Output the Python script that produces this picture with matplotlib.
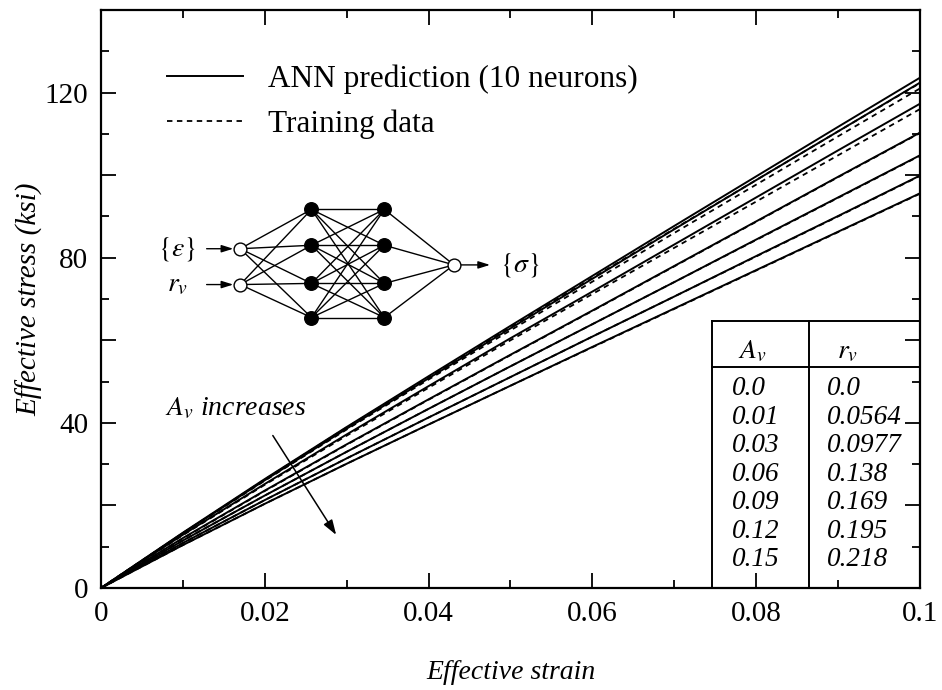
import matplotlib
matplotlib.use("Agg")
import matplotlib.pyplot as plt
from matplotlib.lines import Line2D
from matplotlib.ticker import MultipleLocator, FuncFormatter

plt.rcParams['font.family'] = ['Liberation Serif', 'DejaVu Serif']
plt.rcParams['mathtext.fontset'] = 'stix'

# Effective strain sampling points
strain = [0.0, 0.01, 0.02, 0.03, 0.04, 0.05, 0.06, 0.07, 0.08, 0.09, 0.10]

# Void parameters
A_v = ["0.0", "0.01", "0.03", "0.06", "0.09", "0.12", "0.15"]
r_v = ["0.0", "0.0564", "0.0977", "0.138", "0.169", "0.195", "0.218"]

# ANN prediction (10 neurons), effective stress in ksi
ann_00 = [0, 13.4, 26.4, 39.0, 51.3, 63.5, 75.6, 87.7, 99.7, 111.7, 123.6]
ann_01 = [0, 13.3, 26.1, 38.6, 50.8, 62.9, 74.9, 86.9, 98.8, 110.6, 122.4]
ann_03 = [0, 12.9, 25.2, 37.2, 48.9, 60.5, 71.8, 83.2, 94.6, 106.0, 117.3]
ann_06 = [0, 12.1, 23.6, 34.8, 45.7, 56.5, 67.2, 78.0, 88.8, 99.6, 110.3]
ann_09 = [0, 11.5, 22.4, 33.0, 43.4, 53.7, 63.9, 74.1, 84.4, 94.6, 104.8]
ann_12 = [0, 10.9, 21.3, 31.4, 41.3, 51.1, 60.9, 70.6, 80.4, 90.1, 99.9]
ann_15 = [0, 10.4, 20.4, 30.1, 39.6, 49.0, 58.4, 67.7, 77.0, 86.3, 95.6]

# Training data, effective stress in ksi
trn_00 = [0, 13.3, 26.3, 38.9, 51.1, 63.2, 75.1, 87.0, 98.8, 110.6, 122.3]
trn_01 = [0, 13.2, 26.0, 38.4, 50.5, 62.4, 74.2, 86.0, 97.7, 109.4, 121.0]
trn_03 = [0, 12.8, 25.0, 36.9, 48.5, 60.0, 71.2, 82.4, 93.6, 104.8, 116.0]
trn_06 = [0, 12.0, 23.5, 34.7, 45.6, 56.4, 67.1, 77.9, 88.7, 99.5, 110.2]
trn_09 = [0, 11.5, 22.4, 33.0, 43.4, 53.7, 63.9, 74.1, 84.3, 94.5, 104.7]
trn_12 = [0, 10.9, 21.3, 31.4, 41.3, 51.1, 60.9, 70.6, 80.3, 90.0, 99.8]
trn_15 = [0, 10.4, 20.4, 30.1, 39.6, 49.0, 58.3, 67.6, 76.9, 86.2, 95.5]

ann_curves = [ann_00, ann_01, ann_03, ann_06, ann_09, ann_12, ann_15]
trn_curves = [trn_00, trn_01, trn_03, trn_06, trn_09, trn_12, trn_15]

fig = plt.figure(figsize=(9.42, 6.90), dpi=100)
ax = fig.add_axes([0.1072, 0.1478, 0.8694, 0.8377])

for s in trn_curves:
    ax.plot(strain, s, color='black', lw=1.3, ls=(0, (3, 2.5)))
for s in ann_curves:
    ax.plot(strain, s, color='black', lw=1.4, ls='-')

ax.set_xlim(0, 0.1)
ax.set_ylim(0, 140)

ax.xaxis.set_major_locator(MultipleLocator(0.02))
ax.xaxis.set_minor_locator(MultipleLocator(0.01))
ax.yaxis.set_major_locator(MultipleLocator(20))
ax.yaxis.set_minor_locator(MultipleLocator(10))
ax.xaxis.set_major_formatter(FuncFormatter(lambda v, p: "0" if abs(v) < 1e-9 else ("0.1" if abs(v - 0.1) < 1e-9 else f"{v:.2f}")))
ax.yaxis.set_major_formatter(FuncFormatter(lambda v, p: f"{int(round(v))}" if int(round(v)) % 40 == 0 else ""))

ax.tick_params(which='both', direction='in', top=True, right=True, width=1.3, labelsize=21)
ax.tick_params(which='major', length=11, pad=9)
ax.tick_params(which='minor', length=6)
for sp in ax.spines.values():
    sp.set_linewidth(1.6)

ax.set_xlabel("Effective strain", fontsize=20, style='italic', labelpad=24)
ax.set_ylabel("Effective stress (ksi)", fontsize=21, style='italic', labelpad=1)

# Legend
handles = [Line2D([], [], color='black', lw=1.4, ls='-'),
           Line2D([], [], color='black', lw=1.3, ls=(0, (3, 2.5)))]
ax.legend(handles, ["ANN prediction (10 neurons)", "Training data"],
          loc='upper left', bbox_to_anchor=(0.080, 0.905), frameon=False,
          fontsize=22.5, handlelength=2.45, handletextpad=0.8, labelspacing=0.48,
          borderaxespad=0, borderpad=0)

# Annotation of the trend with A_v
ax.text(0.0164, 43.5, r"$A_v$ increases", fontsize=20, style='italic',
        ha='center', va='center')
ax.annotate("", xy=(0.0289, 12.3), xytext=(0.0208, 37.5),
            arrowprops=dict(arrowstyle='-|>,head_length=0.9,head_width=0.3',
                            color='black', lw=1.1))

# Network sketch (axes-fraction coordinates)
T = ax.transAxes
in_x, h1_x, h2_x, out_x = 0.170, 0.257, 0.346, 0.431
in_y = [0.587, 0.525]
hid_y = [0.655, 0.593, 0.527, 0.468]
out_y = 0.559
for yi in in_y:
    for yh in hid_y:
        ax.plot([in_x, h1_x], [yi, yh], color='black', lw=1.0, transform=T, zorder=3)
for ya in hid_y:
    for yb in hid_y:
        ax.plot([h1_x, h2_x], [ya, yb], color='black', lw=1.0, transform=T, zorder=3)
for yh in hid_y:
    ax.plot([h2_x, out_x], [yh, out_y], color='black', lw=1.0, transform=T, zorder=3)
ax.scatter([h1_x] * 4 + [h2_x] * 4, hid_y * 2, s=95, color='black', transform=T, zorder=5)
ax.scatter([in_x, in_x, out_x], in_y + [out_y], s=85, facecolor='white',
           edgecolor='black', lw=1.0, transform=T, zorder=5)
arrow_kw = dict(arrowstyle='-|>,head_length=0.7,head_width=0.22', color='black', lw=1.0,
                shrinkA=0, shrinkB=5)
for yi in in_y:
    ax.annotate("", xy=(in_x, yi), xytext=(0.129, yi), xycoords=T, textcoords=T,
                arrowprops=arrow_kw)
ax.annotate("", xy=(0.475, out_y), xytext=(out_x, out_y), xycoords=T, textcoords=T,
            arrowprops=dict(arrowstyle='-|>,head_length=0.7,head_width=0.22',
                            color='black', lw=1.0, shrinkA=5, shrinkB=0))
ax.text(0.093, in_y[0], r"$\{\varepsilon\}$", fontsize=20, transform=T, ha='center', va='center')
ax.text(0.093, in_y[1], r"$r_v$", fontsize=20, transform=T, ha='center', va='center')
ax.text(0.511, out_y, r"$\{\sigma\}$", fontsize=20, transform=T, ha='center', va='center')

# Table of A_v and r_v
tx0, tx1, tx2 = 0.0746, 0.0864, 0.1
ty_top, ty_head = 64.7, 53.5
tkw = dict(color='black', lw=1.4, clip_on=False)
ax.plot([tx0, tx2], [ty_top, ty_top], **tkw)
ax.plot([tx0, tx2], [ty_head, ty_head], **tkw)
ax.plot([tx0, tx0], [0, ty_top], **tkw)
ax.plot([tx1, tx1], [0, ty_top], **tkw)
ax.text(0.0795, 57.3, r"$A_v$", fontsize=20, ha='center', va='center')
ax.text(0.0912, 57.3, r"$r_v$", fontsize=20, ha='center', va='center')
row_y = [48.4, 41.4, 34.6, 27.5, 20.6, 13.6, 6.8]
for a, r, yy in zip(A_v, r_v, row_y):
    ax.text(0.0771, yy, a, fontsize=19.5, style='italic', ha='left', va='center')
    ax.text(0.0887, yy, r, fontsize=19.5, style='italic', ha='left', va='center')

fig.savefig("out.png", dpi=100)
